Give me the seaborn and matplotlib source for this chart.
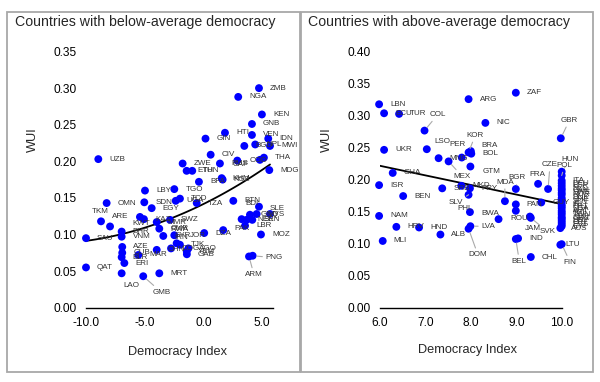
import matplotlib
matplotlib.use("Agg")
import matplotlib.pyplot as plt
import seaborn as sns
import pandas as pd
from matplotlib.patches import Rectangle

# Countries with below-average democracy
low_codes = ["ZMB", "NGA", "KEN", "GNB", "HTI", "VEN", "GIN", "IDN", "MWI", "NPL",
             "BGD", "CIV", "CAF", "COD", "THA", "MDG", "ZWE", "RUS", "ETH", "TUN",
             "BFA", "KHM", "KGZ", "UZB", "LBY", "TGO", "OMN", "SDN", "EGY", "TCD",
             "UGA", "TZA", "TKM", "ARE", "SAU", "QAT", "KWT", "KAZ", "BHR", "VNM",
             "AZE", "CUB", "BLR", "ERI", "LAO", "MAR", "CHN", "GMB", "MRT", "MMR",
             "SWZ", "CMR", "SYR", "RWA", "IRN", "COG", "TJK", "AGO", "YEM", "GAB",
             "JOR", "DZA", "PAK", "NER", "SEN", "GNQ", "MYS", "SLE", "BDI", "BTN",
             "LBR", "MOZ", "PNG", "ARM"]
low_dem = [4.75, 2.98, 5.00, 4.15, 1.85, 4.15, 0.19, 5.54, 5.69, 4.43,
           3.50, 0.63, 2.90, 4.83, 5.17, 5.63, -1.76, 1.42, -1.42, -0.94,
           -0.37, 1.57, 1.65, -8.95, -4.97, -2.47, -8.24, -5.03, -4.40, -1.99,
           -2.35, -0.56, -8.72, -7.95, -10.0, -10.0, -5.40, -5.06, -6.96, -6.96,
           -6.91, -6.91, -6.96, -6.73, -6.96, -5.54, -3.97, -5.12, -3.75, -3.97,
           -2.84, -3.75, -3.41, -2.47, -2.27, -2.75, -1.99, -1.27, -1.41, -1.40,
           0.08, 1.70, 3.27, 3.69, 4.18, 3.98, 4.55, 5.69, 4.75, 2.56,
           3.56, 4.92, 4.21, 3.90]
low_wui = [0.300, 0.288, 0.264, 0.251, 0.239, 0.236, 0.231, 0.231, 0.221, 0.223,
           0.221, 0.209, 0.201, 0.202, 0.205, 0.188, 0.197, 0.197, 0.187, 0.187,
           0.172, 0.177, 0.175, 0.203, 0.160, 0.162, 0.143, 0.144, 0.136, 0.149,
           0.146, 0.143, 0.118, 0.111, 0.095, 0.055, 0.124, 0.121, 0.104, 0.097,
           0.083, 0.075, 0.069, 0.061, 0.047, 0.072, 0.079, 0.043, 0.047, 0.117,
           0.120, 0.108, 0.098, 0.099, 0.088, 0.081, 0.086, 0.081, 0.077, 0.073,
           0.102, 0.106, 0.121, 0.120, 0.120, 0.127, 0.128, 0.128, 0.138, 0.146,
           0.112, 0.100, 0.071, 0.070]

# Countries with above-average democracy
high_codes = ["ZAF", "ARG", "LBN", "ECU", "TUR", "COL", "NIC", "GBR", "UKR", "LSO",
              "MNG", "MEX", "PER", "KOR", "BRA", "BOL", "GTM", "GHA", "ISR", "BEN",
              "SRB", "MKD", "PRY", "SLV", "PHL", "LVA", "DOM", "BWA", "MDA", "BGR",
              "PAN", "ROU", "SVK", "JAM", "GUY", "FRA", "CZE", "IND", "BEL", "CHL",
              "LTU", "FIN", "AUS", "NAM", "MLI", "HRV", "HND", "ALB",
              "HUN", "POL", "ITA", "DEU", "ESP", "NLD", "CAN", "SWE", "NOR", "DNK",
              "CHE", "JPN", "IRL", "PRT", "USA", "AUT", "NZL", "TWN", "SVN", "GRC",
              "URY", "CRI", "EST", "CYP"]
high_dem = [8.99, 7.95, 5.98, 6.09, 6.42, 6.98, 8.32, 9.98, 6.09, 7.03,
            7.29, 7.51, 7.80, 7.95, 8.00, 8.01, 7.99, 6.28, 5.98, 6.51,
            7.37, 7.79, 7.98, 7.95, 7.98, 7.99, 7.95, 8.61, 8.75, 8.99,
            8.99, 8.99, 9.32, 9.30, 9.55, 9.48, 9.70, 9.04, 8.99, 9.32,
            9.97, 10.0, 9.97, 5.98, 6.06, 6.36, 6.86, 7.33,
            10.0, 10.0, 10.0, 10.0, 10.0, 10.0, 10.0, 10.0, 10.0, 10.0,
            10.0, 10.0, 10.0, 10.0, 10.0, 10.0, 10.0, 10.0, 10.0, 10.0,
            10.0, 10.0, 10.0, 10.0]
high_wui = [0.335, 0.325, 0.317, 0.303, 0.302, 0.276, 0.288, 0.264, 0.246, 0.247,
            0.233, 0.228, 0.234, 0.242, 0.244, 0.240, 0.220, 0.210, 0.191, 0.174,
            0.186, 0.190, 0.186, 0.176, 0.149, 0.127, 0.123, 0.138, 0.166, 0.185,
            0.161, 0.151, 0.140, 0.142, 0.164, 0.193, 0.185, 0.108, 0.107, 0.079,
            0.098, 0.099, 0.124, 0.143, 0.104, 0.126, 0.125, 0.114,
            0.212, 0.206, 0.198, 0.194, 0.190, 0.186, 0.183, 0.179, 0.176, 0.171,
            0.168, 0.165, 0.161, 0.158, 0.155, 0.151, 0.148, 0.145, 0.141, 0.139,
            0.136, 0.133, 0.130, 0.127]

# label offsets in pixels (text left edge, centre) relative to the point; default is to the right
label_offsets = {
    "TKM": (-9, 10), "CAF": (-5, -4), "COD": (-10, -1), "LAO": (2, -12),
    "GMB": (9, -16), "ARM": (-4, -18), "PNG": (13, -2), "KWT": (-8, -7),
    "ARE": (2, 10), "DZA": (-8, -3), "PAK": (-7, -9), "BDI": (-14, 3),
    "SLE": (0, 6), "RWA": (-4, 6), "IRN": (-2, 6), "JOR": (-14, -2),
    "GBR": (0, 18), "COL": (5, 16), "LSO": (8, 8), "PER": (-12, 13),
    "KOR": (-2, 17), "BRA": (11, 6), "GTM": (12, -5), "MEX": (5, -15),
    "MDA": (-9, 19), "BGR": (-7, 11), "FRA": (-9, 9), "CZE": (-6, 24),
    "ROU": (-5, -8), "BWA": (-17, 6), "SLV": (-20, -8), "PHL": (-13, 4),
    "DOM": (0, -26), "JAM": (-5, -12), "SVK": (9, -14), "BEL": (-4, -22),
    "FIN": (2, -18), "LTU": (5, 0), "HUN": (0, 12), "POL": (-5, 10),
}
leader_codes = {"GMB", "ARM", "PNG", "GBR", "COL", "KOR", "MEX", "MDA", "BGR",
                "CZE", "DOM", "SVK", "BEL", "FIN", "SLV", "HUN", "POL", "LVA"}

low = pd.DataFrame({"code": low_codes, "dem": low_dem, "wui": low_wui})
high = pd.DataFrame({"code": high_codes, "dem": high_dem, "wui": high_wui})

sns.set_theme(style="white")
plt.rcParams['font.family'] = ['Liberation Sans', 'DejaVu Sans']
plt.rcParams['axes.unicode_minus'] = False

fig = plt.figure(figsize=(6, 3.82), dpi=100)
ax1 = fig.add_axes([86 / 600, 1 - 307.7 / 382, 186.7 / 600, 263.5 / 382])
ax2 = fig.add_axes([380 / 600, 1 - 307.7 / 382, 181.7 / 600, 263.1 / 382])


def draw_panel(ax, df, order, xlim, ylim, xticks, yticks):
    sns.regplot(data=df, x="dem", y="wui", order=order, scatter=False, ci=None,
                color="black", line_kws=dict(lw=1.3), ax=ax)
    sns.scatterplot(data=df, x="dem", y="wui", color="#0000ff", s=32,
                    edgecolor="none", clip_on=False, zorder=3, ax=ax)
    for code, xv, yv in zip(df["code"], df["dem"], df["wui"]):
        dx, dy = label_offsets.get(code, (11, 0))
        arrow = None
        if code in leader_codes:
            arrow = dict(arrowstyle="-", color="#aaaaaa", lw=0.8, shrinkA=0, shrinkB=3)
        ax.annotate(code, (xv, yv), xytext=(dx, dy), textcoords="offset pixels",
                    ha="left", va="center", fontsize=5.8, color="#333333",
                    arrowprops=arrow, annotation_clip=False, zorder=4)
    ax.set_xlim(*xlim)
    ax.set_ylim(*ylim)
    ax.set_xticks(xticks)
    ax.set_xticklabels([f"{t:.1f}" for t in xticks])
    ax.set_yticks(yticks)
    ax.set_yticklabels([f"{t:.2f}" for t in yticks])
    ax.tick_params(length=0, labelsize=8.6, colors="black", pad=7)
    for side in ["top", "right", "left"]:
        ax.spines[side].set_visible(False)
    ax.spines["bottom"].set_color("black")
    ax.spines["bottom"].set_linewidth(1.0)
    ax.set_xlabel("")
    ax.set_ylabel("")
    ax.set_facecolor("white")


draw_panel(ax1, low, 2, (-10, 5.92), (0, 0.36), [-10, -5, 0, 5],
           [0, 0.05, 0.10, 0.15, 0.20, 0.25, 0.30, 0.35])
draw_panel(ax2, high, 1, (6, 9.97), (0, 0.41), [6, 7, 8, 9, 10],
           [0, 0.05, 0.10, 0.15, 0.20, 0.25, 0.30, 0.35, 0.40])

# panel frames and texts
for x0, w in [(7, 293), (301, 292)]:
    fig.add_artist(Rectangle((x0 / 600, 1 - 372 / 382), w / 600, 360 / 382,
                             transform=fig.transFigure, fill=False,
                             ec="#a8a8a8", lw=1.3))
fig.text(15 / 600, 1 - 22 / 382, "Countries with below-average democracy",
         ha="left", va="center", fontsize=10.2)
fig.text(308 / 600, 1 - 22 / 382, "Countries with above-average democracy",
         ha="left", va="center", fontsize=10.2)
for xc in [33, 327]:
    fig.text(xc / 600, 1 - 140 / 382, "WUI", rotation=90, ha="center",
             va="center", fontsize=9.2)
fig.text(178 / 600, 1 - 352 / 382, "Democracy Index", ha="center", va="center", fontsize=9.2)
fig.text(467 / 600, 1 - 350 / 382, "Democracy Index", ha="center", va="center", fontsize=9.2)

fig.savefig("out.png", dpi=100, facecolor="white")
